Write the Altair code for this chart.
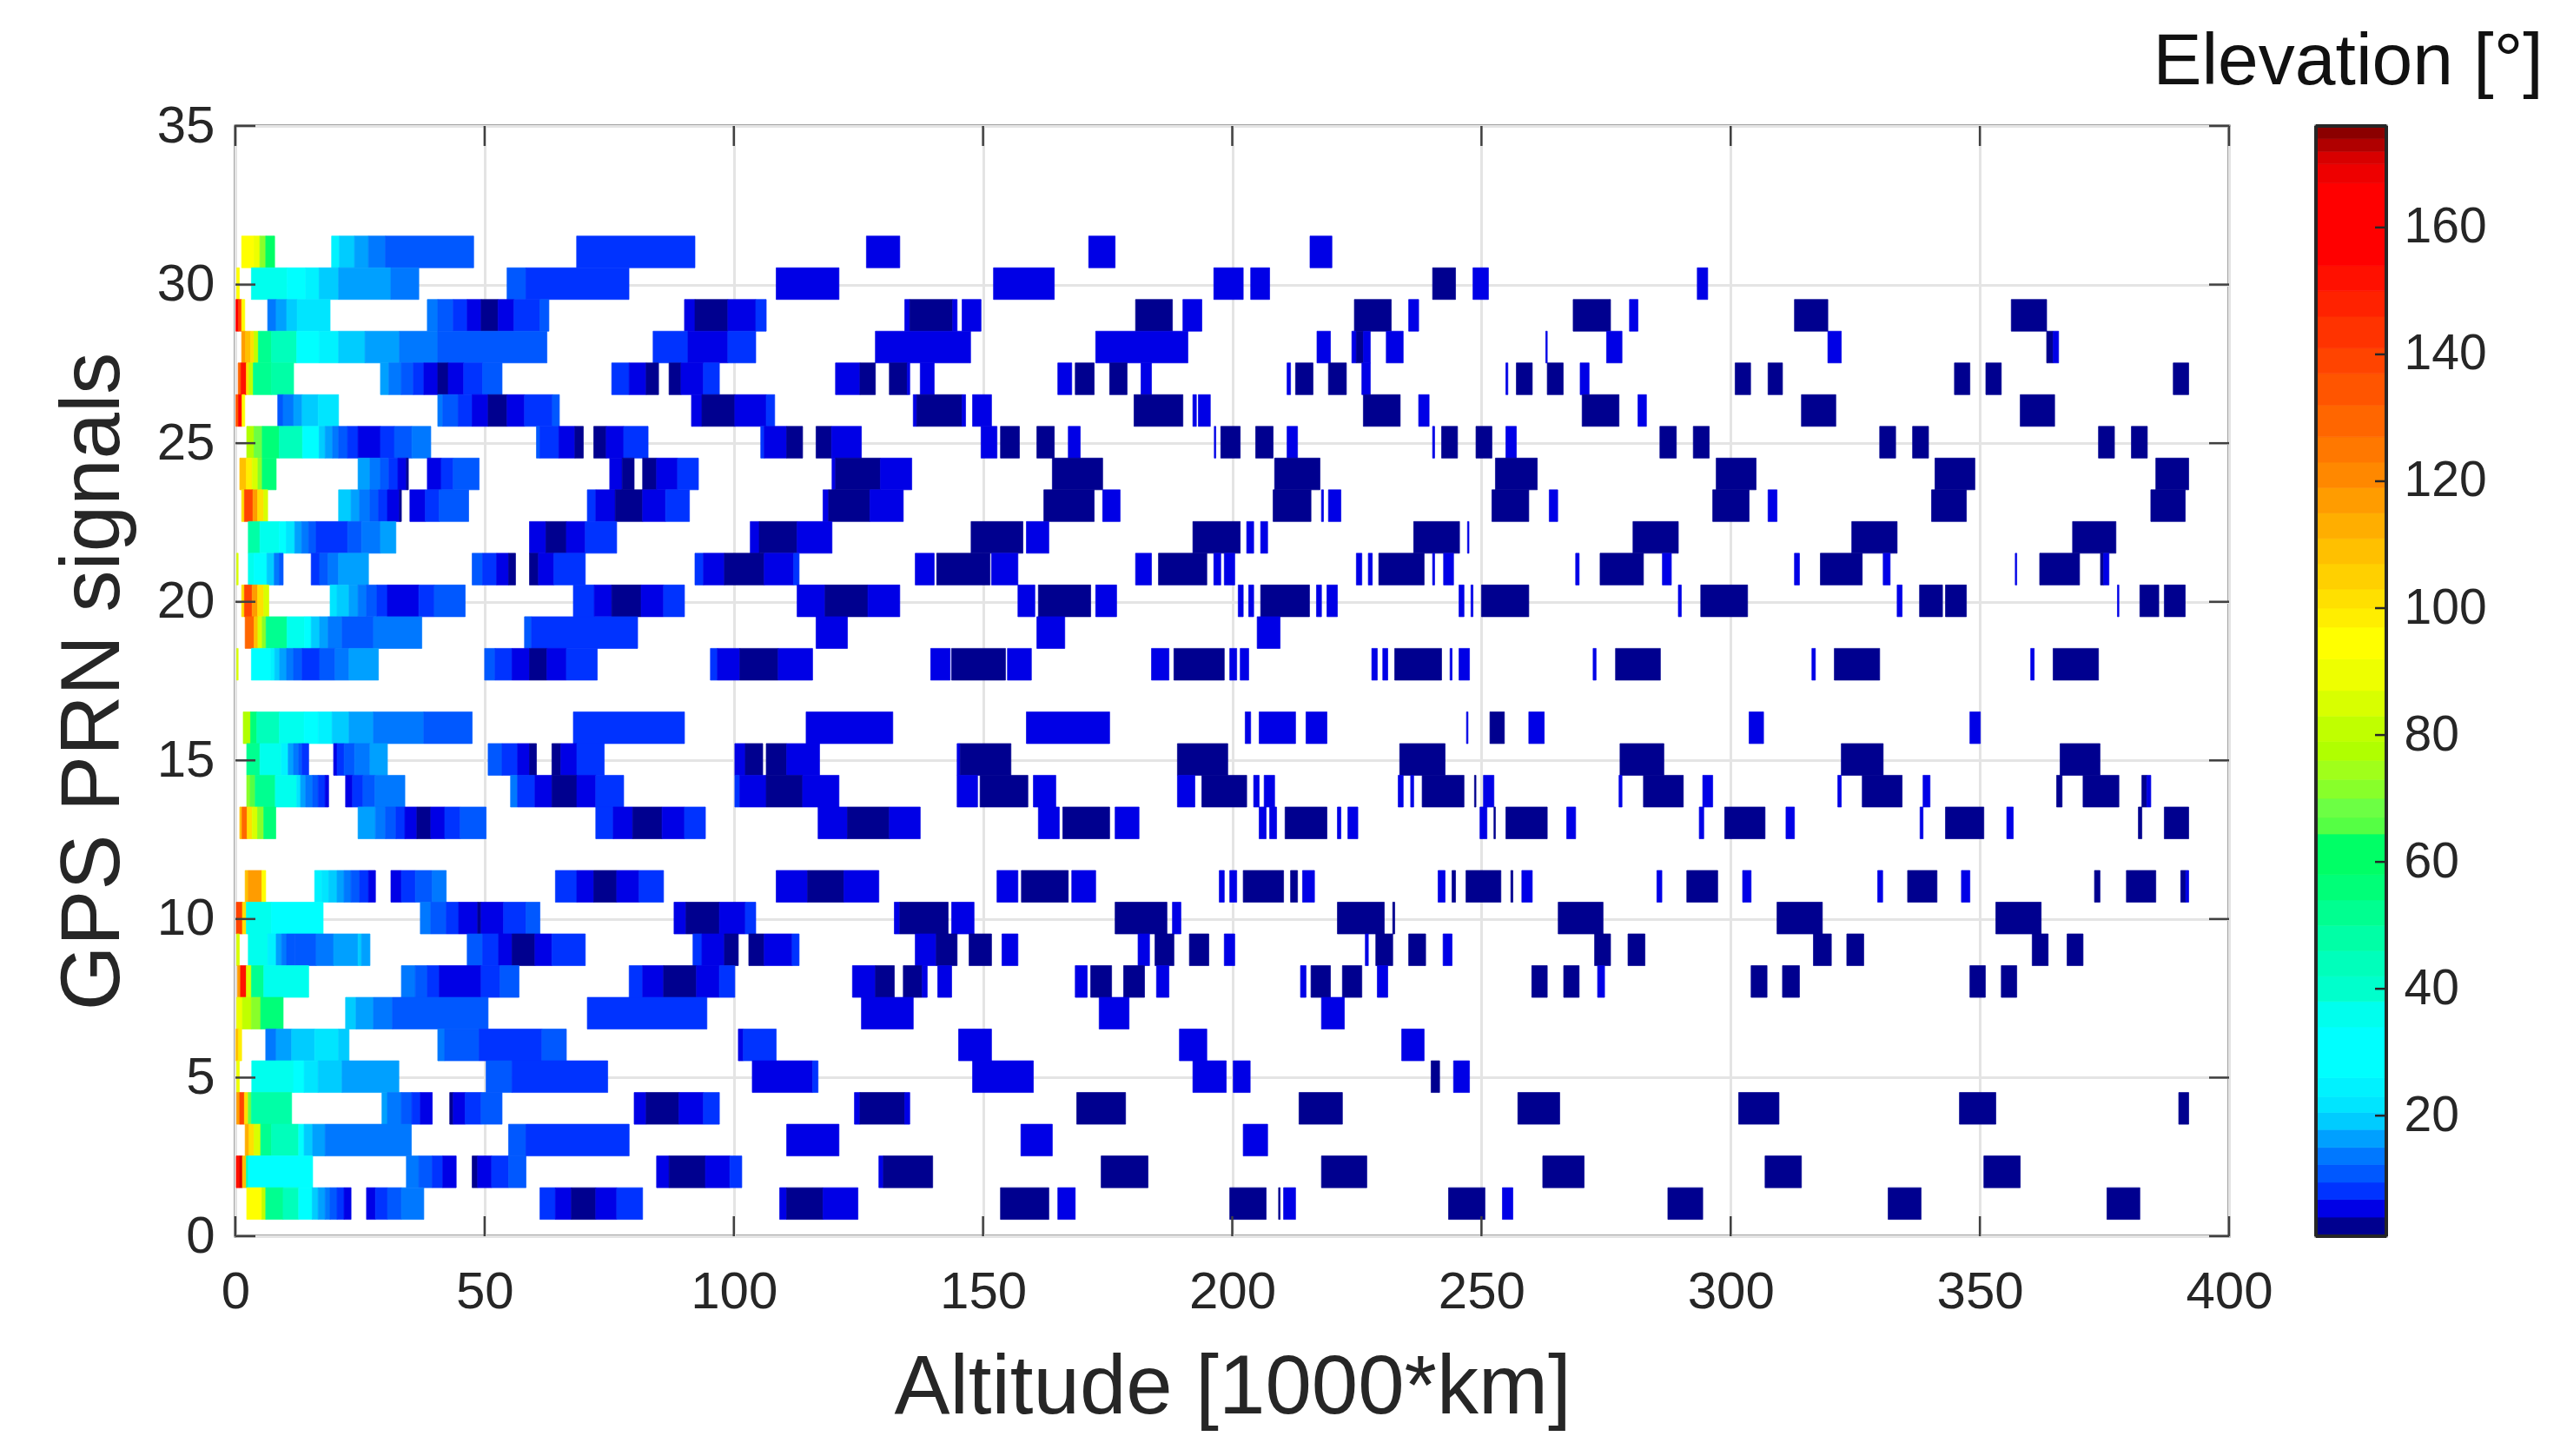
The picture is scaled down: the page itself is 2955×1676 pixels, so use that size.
import altair as alt
import pandas as pd

# Elevation values
N, B, C, D, E, F, G, H = 2.5, 5.5, 8, 11, 13.5, 16.5, 19, 22

# (altitude start, altitude end, elevation) per GPS PRN
prn_31 = [(1.25,3.74,95),(3.74,4.91,88),(4.91,6.08,72),(6.08,7.87,58),(19.3,20.85,24),(20.85,23.9,G),(23.9,26.7,F),(26.7,30.1,E),(30.1,47.8,D),(68.46,92.2,C),(126.6,133.3,B),(171.2,176.5,B),(215.6,220,B)]
prn_30 = [(0.24,0.79,95),(3.2,10.35,36),(10.35,14.09,30),(14.09,16.8,24),(16.8,20.7,G),(20.7,31.2,F),(31.2,36.8,E),(54.5,58.3,D),(58.3,78.96,C),(108.5,121.1,B),(152.1,164.3,B),(196.3,202.2,B),(203.7,207.5,B),(240.2,244.8,N),(248.3,251.4,B),(293.3,295.4,B)]
prn_29 = [(0.09,0.63,160),(0.63,1.25,140),(1.25,1.88,95),(6.47,8.18,E),(8.18,10.28,F),(10.28,12.38,G),(12.38,19,H),(38.5,40.6,E),(40.6,43.7,D),(43.7,46.5,C),(46.5,49.3,B),(49.3,52.7,N),(52.7,55.9,B),(55.9,61.1,C),(61.1,62.9,D),(90.1,92.2,B),(92.2,98.8,N),(98.8,104.4,B),(104.4,106.5,C),(134.3,135.3,B),(135.3,143.9,N),(143.9,144.8,B),(145.8,149.6,B),(180.6,188,N),(190.1,193.9,B),(224.5,231.9,N),(235.4,237.4,B),(268.4,275.9,N),(279.7,281.4,B),(312.8,319.5,N),(356.3,363.4,N)]
prn_28 = [(1.25,2.03,118),(2.03,3.04,107),(3.04,3.74,100),(3.74,4.6,80),(4.6,7.24,52),(7.24,12.3,42),(12.3,16.8,30),(16.8,20.7,24),(20.7,26,G),(26,32.9,F),(32.9,40.6,E),(40.6,62.5,D),(83.8,90.8,C),(90.8,98.8,B),(98.8,104.4,C),(128.4,147.5,B),(172.6,191.1,B),(217,219.7,B),(224,224.9,B),(224.9,226.3,N),(226.3,227.7,B),(230.9,234.3,B),(262.9,263.2,B),(275.1,278.2,B),(319.5,322.2,B),(363.4,364.7,N),(364.7,365.8,B)]
prn_27 = [(0.55,1.1,130),(1.1,2.19,150),(2.19,2.73,100),(2.73,3.59,80),(3.59,7.24,52),(7.24,11.68,46),(29.1,30.8,F),(30.8,33.3,E),(33.3,35.7,D),(35.7,37.8,C),(37.8,40.6,B),(40.6,42.7,N),(42.7,45.8,B),(45.8,49.6,C),(49.6,53.5,D),(75.5,79,C),(79,82.4,B),(82.4,84.9,N),(87,89.4,N),(89.4,93.9,B),(93.9,97.1,C),(120.4,125.3,B),(125.3,128.4,N),(131.2,134.8,N),(134.8,135.3,B),(137.4,140.2,B),(165,167.8,B),(168.5,172.3,N),(175.4,178.9,N),(181.7,183.8,B),(211,211.7,B),(212.7,216.2,N),(219.3,222.9,N),(226,227.7,B),(254.9,255.3,B),(257,260.2,N),(263.2,266.4,N),(269.8,271.6,B),(300.9,304,N),(307.5,310.4,N),(344.9,348,N),(351.2,354.3,N),(388.8,391.9,N)]
prn_26 = [(0.09,0.63,135),(0.63,1.33,160),(1.33,1.88,95),(8.49,9.58,D),(9.58,11.68,E),(11.68,13.39,F),(13.39,16.6,G),(16.6,20.7,H),(40.6,41.6,E),(41.6,44.7,D),(44.7,47.5,C),(47.5,50.7,B),(50.7,54.5,N),(54.5,58,B),(58,63.6,C),(63.6,65,D),(91.5,93.6,B),(93.6,100.2,N),(100.2,106.5,B),(106.5,108.2,C),(136,136.7,B),(136.7,145.8,N),(145.8,146.5,B),(147.9,151.7,B),(180.3,190.1,N),(192.1,192.8,B),(193.2,195.6,B),(226.3,233.7,N),(237.4,239.5,B),(270.2,277.6,N),(281.4,283.1,B),(314.2,321.1,N),(358.1,365,N)]
prn_25 = [(2.27,3.74,77),(3.74,5.38,68),(5.38,8.8,55),(8.8,13.47,44),(13.47,16.8,30),(16.8,18,G),(18,19.5,F),(19.5,20.7,E),(20.7,22.5,D),(22.5,24.6,C),(24.6,29.1,B),(29.1,31.9,C),(31.9,35.4,D),(35.4,39.2,E),(60.4,61.1,D),(61.1,64.9,C),(64.9,68.1,B),(68.1,69.8,N),(71.9,74.4,N),(74.4,77.9,B),(77.9,82.8,C),(105.4,106.1,C),(106.1,110.6,B),(110.6,113.8,N),(116.5,119.6,N),(119.6,125.6,B),(149.6,152.8,B),(153.5,157.3,N),(160.8,164.3,N),(167.1,169.5,B),(196.4,196.7,B),(197.7,201.6,N),(204.7,208.2,N),(211,213.1,B),(240.2,240.6,B),(242,245.2,N),(248.9,252.1,N),(254.9,257,B),(285.8,289.1,N),(292.5,295.7,N),(329.9,333.1,N),(336.5,339.7,N),(373.8,377,N),(380.4,383.6,N)]
prn_24 = [(0.87,2.19,107),(2.19,3.35,97),(3.35,4.52,85),(4.52,5.38,70),(5.38,8.18,56),(24.6,27,F),(27,29.1,E),(29.1,30.8,D),(30.8,32.6,C),(32.6,34.3,B),(34.3,34.7,N),(38.5,41.3,B),(41.3,43.7,C),(43.7,48.9,D),(75.1,77.6,B),(77.6,80,N),(81.7,84.5,N),(84.5,88.7,B),(88.7,92.9,C),(119.7,120.4,B),(120.4,129.4,N),(129.4,135.7,B),(163.9,174,N),(208.5,217.6,N),(252.8,261.2,N),(297.1,305.1,N),(341,349,N),(385.3,391.9,N)]
prn_23 = [(1.25,1.8,100),(1.8,3.51,140),(3.51,4.44,118),(4.44,5.69,100),(5.69,6.47,85),(20.7,23.2,G),(23.2,24.9,F),(24.9,27,E),(27,28.7,D),(28.7,30.5,C),(30.5,32.9,B),(32.9,33.3,N),(35,38.1,B),(38.1,40.9,C),(40.9,46.8,D),(70.6,72.3,C),(72.3,76.2,B),(76.2,81.7,N),(81.7,86.3,B),(86.3,91.1,C),(117.9,119,B),(119,127.3,N),(127.3,134,B),(162.2,172.3,N),(174,177.5,B),(208.2,215.8,N),(217.9,218.3,B),(219.3,221.8,B),(252.1,259.5,N),(263.6,265.3,B),(296.4,303.7,N),(307.5,309.3,B),(340.3,347.3,N),(384.3,391.2,N)]
prn_22 = [(2.58,4.91,46),(4.91,8.8,36),(8.8,10.2,30),(10.2,11.9,H),(11.9,13.3,F),(13.3,14.7,E),(14.7,16.2,D),(16.2,22.5,C),(22.5,25.3,D),(25.3,29.1,E),(29.1,32.2,F),(59,62.3,B),(62.3,66.4,N),(66.4,70.2,B),(70.2,76.5,C),(103.3,105.1,B),(105.1,112.7,N),(112.7,119.7,B),(147.6,158,N),(158.7,163.2,B),(192.1,201.6,N),(202.9,204.3,B),(205.7,207.1,B),(236.4,245.6,N),(247.2,247.5,B),(280.4,289.5,N),(324.3,333.4,N),(368.6,377.3,N)]
prn_21 = [(0.24,0.55,85),(2.58,3.74,36),(3.74,6.31,30),(6.31,7.79,G),(7.79,8.8,E),(8.8,9.58,D),(15.2,16.9,C),(16.9,18.6,D),(18.6,20.7,E),(20.7,26.7,F),(47.5,49.6,D),(49.6,52.4,C),(52.4,54.8,B),(54.8,56.2,N),(59,60.8,N),(60.8,63.9,B),(63.9,70.2,C),(92.2,93.9,C),(93.9,98.1,B),(98.1,106.1,N),(106.1,112,B),(112,113.1,C),(136.4,140.2,B),(140.7,151.4,N),(151.7,157,B),(180.6,183.8,B),(185.2,194.9,N),(196.3,197.7,B),(198.4,200.5,B),(224.9,226,B),(227.3,228.1,B),(229.4,238.5,N),(240.2,240.6,B),(242.4,244.4,B),(268.9,269.6,B),(273.8,282.5,N),(286.3,288.1,B),(312.8,313.8,B),(318,326.4,N),(330.6,332,B),(357.1,357.4,B),(362,370,N),(374.2,374.8,N),(374.8,375.9,B)]
prn_20 = [(1.25,1.8,100),(1.8,3.35,140),(3.35,4.44,118),(4.44,5.69,100),(5.69,6.7,85),(19,20.4,H),(20.4,22.8,G),(22.8,24.6,F),(24.6,26.3,E),(26.3,28.4,D),(28.4,30.5,C),(30.5,36.8,B),(36.8,39.9,C),(39.9,46.1,D),(67.8,72,C),(72,75.5,B),(75.5,81.4,N),(81.4,85.9,B),(85.9,90.1,C),(112.7,118.3,B),(118.3,126.9,N),(126.9,133.3,B),(157,160.4,B),(161.1,171.6,N),(172.6,176.8,B),(201.2,202.2,B),(203.3,204.3,B),(205.7,215.5,N),(216.9,217.9,B),(219,221.1,B),(245.5,246.5,B),(247.9,248.3,B),(250,259.5,N),(289.5,290.1,B),(294,303.4,N),(333.4,334.4,B),(337.9,342.5,N),(343.1,347.3,N),(377.6,377.9,B),(382.1,385.9,N),(387,391.2,N)]
prn_19 = [(1.95,3.74,130),(3.74,4.52,110),(4.52,5.38,85),(5.38,6.15,70),(6.15,10.35,52),(10.35,13.85,36),(13.85,15.2,26),(15.2,16.9,G),(16.9,18.6,F),(18.6,21.4,E),(21.4,27.7,D),(27.7,37.4,E),(58,59.4,D),(59.4,80.7,C),(116.5,122.8,B),(160.8,166.4,B),(205,209.6,B)]
prn_18 = [(0.24,0.55,85),(3.2,7.09,30),(7.09,7.87,24),(7.87,8.88,G),(8.88,10.28,F),(10.28,11.68,E),(11.68,13.39,D),(13.39,16.9,C),(16.9,20,D),(20,22.8,E),(22.8,28.7,F),(50,52.1,D),(52.1,55.5,C),(55.5,59,B),(59,62.5,N),(62.5,66.4,B),(66.4,72.6,C),(95.3,96.7,C),(96.7,101.2,B),(101.2,108.9,N),(108.9,115.8,B),(139.5,143.4,B),(143.7,154.5,N),(154.9,159.7,B),(183.8,187.3,B),(188.3,198.4,N),(199.5,200.9,B),(201.6,203.3,B),(228,229.1,B),(230.2,231.2,B),(232.6,242,N),(243.7,244.1,B),(245.5,247.6,B),(272.4,273,B),(276.9,285.9,N),(316.3,317,B),(320.8,329.9,N),(360.2,360.9,B),(364.7,373.8,N)]
prn_16 = [(1.57,3.04,77),(3.04,4.29,55),(4.29,8.8,42),(8.8,13.78,35),(13.78,16.6,30),(16.6,19.4,24),(19.4,22.8,G),(22.8,27.7,F),(27.7,37.8,E),(37.8,47.5,D),(67.8,90.1,C),(114.5,131.9,B),(158.7,175.4,B),(202.6,203.7,B),(205.4,212.7,B),(214.8,219,B),(247,247.3,B),(251.7,254.6,N),(259.5,262.6,B),(303.7,306.6,B),(348,350.1,B)]
prn_15 = [(2.27,4.91,50),(4.91,9.19,35),(9.19,10.59,24),(10.59,11.68,F),(11.68,12.69,E),(12.69,13.39,D),(13.39,14.7,C),(19.7,20.4,B),(20.4,21.8,C),(21.8,23.9,D),(23.9,27,E),(27,30.5,F),(50.7,53.5,D),(53.5,56.6,C),(56.6,59,B),(59,60.4,N),(63.5,65.3,N),(65.3,68.5,B),(68.5,74,C),(100.2,102.3,B),(102.3,105.8,N),(106.5,110.6,N),(110.6,117.2,B),(144.8,145.4,B),(145.4,155.6,N),(189,199.1,N),(233.6,242.7,N),(277.8,286.6,N),(322.2,330.6,N),(366.1,374.1,N)]
prn_14 = [(2.27,2.97,70),(2.97,3.98,66),(3.98,8,50),(8,12.3,35),(12.3,13.08,H),(13.08,14.09,F),(14.09,15.5,E),(15.5,16.6,D),(16.6,18,C),(18,18.7,B),(22.1,23.5,B),(23.5,25.6,C),(25.6,28,D),(28,34,E),(55.2,56.6,E),(56.6,60.1,C),(60.1,63.5,B),(63.5,68.5,N),(68.5,72.3,B),(72.3,77.9,C),(100.2,101.2,C),(101.2,106.5,B),(106.5,113.8,N),(113.8,121.1,B),(144.8,148.9,B),(149.4,159,N),(160.1,164.6,B),(189,192.5,B),(193.9,202.9,N),(204.3,205.4,B),(206.4,208.5,B),(233.3,234.3,B),(235.8,236.4,B),(238.1,246.5,N),(248.6,248.9,N),(250.4,252.5,B),(277.6,278.2,B),(282.5,290.5,N),(294.4,296.4,B),(321.5,322.2,B),(326.4,334.4,N),(338.6,340,B),(365.4,366.5,N),(370.7,377.9,N),(382.5,383.5,N),(383.5,384.3,B)]
prn_13 = [(0.87,1.33,107),(1.33,2.34,130),(2.34,3.35,100),(3.35,4.44,85),(4.44,5.69,70),(5.69,8.1,55),(24.6,28.1,F),(28.1,30.1,E),(30.1,32.2,D),(32.2,34,C),(34,36.4,B),(36.4,39.2,N),(39.2,42,B),(42,45.1,C),(45.1,50.3,D),(72.3,75.8,C),(75.8,79.7,B),(79.7,85.6,N),(85.6,90.1,B),(90.1,94.3,C),(116.9,122.8,B),(122.8,131.2,N),(131.2,137.4,B),(161.1,165.3,B),(166,175.4,N),(176.5,181.3,B),(205.4,206.8,B),(207.5,208.9,B),(210.6,219,N),(221.1,221.8,B),(223.2,225.2,B),(249.7,251.1,B),(252.5,252.8,N),(254.9,263.2,N),(267.1,268.9,B),(293.7,294.6,B),(298.8,306.9,N),(311.1,312.8,B),(338,338.6,B),(343.1,350.8,N),(355.4,356.7,B),(381.8,382.5,N),(387,391.9,N)]
prn_11 = [(1.95,2.58,107),(2.58,5.3,117),(5.3,6.08,92),(15.9,17.3,24),(17.3,18.7,H),(18.7,20.4,G),(20.4,21.8,F),(21.8,23.2,E),(23.2,24.9,D),(24.9,26.7,C),(26.7,28.1,B),(31.2,33.3,B),(33.3,36.1,C),(36.1,39.5,D),(39.5,42.3,E),(64.2,68.5,C),(68.5,71.9,B),(71.9,76.5,N),(76.5,81,B),(81,85.9,C),(108.5,114.8,B),(114.8,122.1,N),(122.1,129.1,B),(152.8,157,B),(157.7,167.1,N),(167.8,172.6,B),(197.4,198.4,B),(199.5,200.9,B),(202.2,210.3,N),(211.7,213.1,N),(214.1,216.5,B),(241.3,242.7,B),(244.1,244.8,N),(246.9,253.9,N),(255.9,256.3,N),(258.1,260.2,B),(285.2,286.2,B),(291.2,297.4,N),(302.4,304.1,B),(329.5,330.5,B),(335.5,341.4,N),(346.3,348,B),(373,374.1,N),(379.4,385.3,N),(390.3,391.3,N),(391.3,391.9,B)]
prn_10 = [(0.17,1.41,140),(1.41,2.19,100),(2.19,7.24,36),(7.24,17.6,30),(37.1,39.2,E),(39.2,42.3,D),(42.3,44.8,C),(44.8,48.6,B),(48.6,49.3,N),(49.3,53.8,B),(53.8,58.3,C),(58.3,61.1,D),(88,90.4,B),(90.4,97.1,N),(97.1,102.3,B),(102.3,104.4,C),(132.2,133.3,B),(133.3,143,N),(143.7,148.2,B),(176.5,186.9,N),(188,189.7,B),(221.1,230.5,N),(232.2,232.6,N),(265.4,274.4,N),(309.3,318.4,N),(353.2,362.3,N)]
prn_9 = [(0.24,0.79,85),(2.58,6.47,36),(6.47,8.18,24),(8.18,9.27,F),(9.27,10.28,E),(10.28,12,D),(12,16.2,D),(16.2,19.7,E),(19.7,24.6,F),(24.6,25.3,G),(25.3,27,F),(46.5,49.6,D),(49.6,52.8,C),(52.8,55.5,B),(55.5,60.1,N),(60.1,63.5,B),(63.5,70.2,C),(91.8,93.6,C),(93.6,98.1,B),(98.1,100.9,N),(103,106.1,N),(106.1,111.7,B),(111.7,113.1,C),(136.4,140.6,B),(140.6,144.8,N),(147.2,151.7,N),(153.8,157,B),(181.1,183.4,B),(184.5,188.3,N),(191.4,195.3,N),(198.4,200.5,B),(226.7,227.3,B),(228.8,232.2,N),(235.4,238.8,N),(242.3,244.1,B),(272.7,275.9,N),(279.4,282.8,N),(316.6,320.2,N),(323.3,326.7,N),(360.5,363.7,N),(367.5,370.7,N)]
prn_8 = [(0.4,1.02,117),(1.02,2.19,150),(2.19,3.2,85),(3.2,5.69,50),(5.69,14.7,36),(33.3,36.1,E),(36.1,38.5,D),(38.5,40.9,C),(40.9,49.3,B),(49.3,53.1,C),(53.1,56.9,D),(79,81.7,C),(81.7,85.9,B),(85.9,92.5,N),(92.5,97.1,B),(97.1,100.2,C),(123.8,128.4,B),(128.4,132.2,N),(134,137.8,N),(137.8,138.8,B),(140.9,143.7,B),(168.5,170.9,B),(171.6,175.8,N),(178.2,182.4,N),(184.8,187.3,B),(213.7,214.8,B),(215.8,219.7,N),(222.1,226,N),(229.1,231.2,B),(260.1,263.2,N),(266.5,269.6,N),(273.3,274.7,B),(304.1,307.3,N),(310.4,313.8,N),(348,351.1,N),(354.3,357.4,N)]
prn_7 = [(0.24,1.41,90),(1.41,3.2,80),(3.2,5.07,70),(5.07,9.58,56),(22.1,24.2,G),(24.2,27.7,F),(27.7,31.5,E),(31.5,50.7,D),(70.6,94.6,C),(125.6,136,B),(173.3,179.3,B),(217.9,222.5,B)]
prn_6 = [(0.09,0.63,107),(0.63,1.25,98),(6.08,8.18,E),(8.18,11.29,F),(11.29,15.9,G),(15.9,20.7,H),(20.7,22.8,G),(40.6,42,E),(42,48.9,D),(48.9,61.5,C),(61.5,66.4,D),(100.9,101.9,B),(101.9,108.5,C),(145.1,151.7,B),(189.4,194.9,B),(234,238.5,B)]
prn_5 = [(0.24,0.79,88),(3.28,11.68,36),(11.68,13.78,30),(13.78,16.6,H),(16.6,21.4,G),(21.4,32.8,F),(50.3,55.5,D),(55.5,74.7,C),(103.7,115.8,B),(115.8,116.9,C),(147.9,160.1,B),(192.1,198.8,B),(200.2,203.6,B),(239.9,241.6,N),(244.4,247.6,B)]
prn_4 = [(0.24,0.87,117),(0.87,1.8,140),(1.8,2.58,100),(2.58,3.2,68),(3.2,11.29,46),(29.4,30.5,F),(30.5,33.3,E),(33.3,35.4,D),(35.4,37.1,C),(37.1,39.5,B),(43,43.7,N),(43.7,46.1,B),(46.1,49.3,C),(49.3,53.5,D),(80,82.4,B),(82.4,89,N),(89,93.9,B),(93.9,97.1,C),(124.2,125.3,B),(125.3,134.3,N),(134.3,135.3,B),(168.8,178.6,N),(213.4,222.1,N),(257.3,265.7,N),(301.6,309.7,N),(345.9,353.2,N),(389.9,391.9,N)]
prn_3 = [(1.95,2.73,113),(2.73,3.74,100),(3.74,5.07,85),(5.07,7.24,52),(7.24,12.69,42),(12.69,13.78,30),(13.78,15.5,G),(15.5,18,F),(18,35.3,E),(54.8,58.3,D),(58.3,79,C),(110.6,121.1,B),(157.6,163.9,B),(202.2,207.1,B)]
prn_2 = [(0.17,0.87,150),(0.87,1.41,170),(1.41,2.19,110),(2.19,2.6,42),(2.6,15.5,30),(34.3,36.8,E),(36.8,39.5,D),(39.5,41.6,C),(41.6,44.3,B),(47.5,48.6,N),(48.6,51.4,B),(51.4,54.8,C),(54.8,58.3,D),(84.5,87,B),(87,94.3,N),(94.3,99.2,B),(99.2,101.6,C),(129.1,130,B),(130,139.9,N),(173.7,183.1,N),(217.9,227,N),(262.3,270.6,N),(306.9,314.2,N),(350.8,358.1,N)]
prn_1 = [(2.27,5.3,95),(5.3,6.08,80),(6.08,9.58,52),(9.58,12.69,42),(12.69,15.4,30),(15.4,16.6,G),(16.6,18,F),(18,19,E),(19,20.4,D),(20.4,21.8,C),(21.8,23.2,B),(26.3,28.1,B),(28.1,30.5,C),(30.5,33.3,D),(33.3,37.8,E),(61.1,64.2,C),(64.2,67.4,B),(67.4,72.3,N),(72.3,76.5,B),(76.5,81.7,C),(109.2,110.6,B),(110.6,117.9,N),(117.9,124.9,B),(153.5,163.2,N),(165,168.5,B),(199.5,206.8,N),(209.3,209.6,N),(210.3,212.7,B),(243.4,250.7,N),(254.2,256.3,B),(287.4,294.4,N),(331.6,338.2,N),(375.5,382.1,N)]

rows = {31: prn_31, 30: prn_30, 29: prn_29, 28: prn_28, 27: prn_27, 26: prn_26, 25: prn_25,
        24: prn_24, 23: prn_23, 22: prn_22, 21: prn_21, 20: prn_20, 19: prn_19, 18: prn_18,
        16: prn_16, 15: prn_15, 14: prn_14, 13: prn_13, 11: prn_11, 10: prn_10, 9: prn_9,
        8: prn_8, 7: prn_7, 6: prn_6, 5: prn_5, 4: prn_4, 3: prn_3, 2: prn_2, 1: prn_1}

# Colour bar: lower bound of each band and its colour
level_low = [1, 4, 6.8, 9.5, 12.3, 15, 17.8, 20.5, 23, 26, 34, 38, 42, 46, 50, 54, 58, 64.4, 67, 70, 73, 76, 79, 83, 87, 92, 97, 100, 103, 107, 111, 115, 119, 123, 127, 132, 137, 141, 146, 150, 154, 167, 170, 172, 174]
level_col = ["#00008F", "#0000E6", "#0033FF", "#0058FF", "#0078FF", "#00A0FF", "#00CCFF", "#00E5FF", "#00F2FF", "#00FFFF", "#00FFEE", "#00FFCC", "#00FFBB", "#00FFA6", "#00FF90", "#00FF78", "#00FF66", "#55FF44", "#6CFF44", "#88FF2A", "#A0FF1A", "#B0FF00", "#C0FF00", "#D8FF00", "#EEFF00", "#FFFF00", "#FFEE00", "#FFE000", "#FFD000", "#FFC000", "#FFAE00", "#FF9C00", "#FF8800", "#FF7800", "#FF6600", "#FF5500", "#FF4400", "#FF3300", "#FF2200", "#FF1000", "#FF0000", "#EE0000", "#D80000", "#B00000", "#8B0000"]
level_top = 176

x_ticks = [0, 50, 100, 150, 200, 250, 300, 350, 400]
y_ticks = [0, 5, 10, 15, 20, 25, 30, 35]
bar_ticks = [20, 40, 60, 80, 100, 120, 140, 160]

FONT = "Liberation Sans"
W, HT = 2295, 1278
TICK = 23
BAR_W = 81

records = []
for prn, segs in rows.items():
    for a, b, e in segs:
        records.append({"a": a, "b": b, "y0": prn - 0.47, "y1": prn + 0.53, "elev": e})
df = pd.DataFrame(records)

thresh = alt.Scale(type="threshold", domain=level_low[1:], range=level_col)

x_scale = alt.Scale(domain=[0, 400], nice=False, zero=False)
y_scale = alt.Scale(domain=[0, 35], nice=False, zero=False)

x_axis = alt.Axis(
    title="Altitude [1000*km]", values=x_ticks, format="d", grid=True, gridColor="#e4e4e4", gridWidth=3,
    domain=False, ticks=False, labelFontSize=60, labelFont=FONT, labelColor="#262626", labelPadding=35,
    labelFlush=False, labelOverlap=False,
    titleFontSize=96, titleFont=FONT, titleFontWeight="normal", titleColor="#262626", titlePadding=33)
y_axis = alt.Axis(
    title="GPS PRN signals", values=y_ticks, format="d", grid=True, gridColor="#e4e4e4", gridWidth=3,
    domain=False, ticks=False, labelFontSize=60, labelFont=FONT, labelColor="#262626", labelPadding=24,
    labelFlush=False, labelOverlap=False,
    titleFontSize=96, titleFont=FONT, titleFontWeight="normal", titleColor="#262626", titlePadding=24)

rects = alt.Chart(df).mark_rect(strokeWidth=0.7).encode(
    x=alt.X("a:Q", scale=x_scale, axis=x_axis),
    x2="b:Q",
    y=alt.Y("y0:Q", scale=y_scale, axis=y_axis),
    y2="y1:Q",
    color=alt.Color("elev:Q", scale=thresh, legend=None),
    stroke=alt.Stroke("elev:Q", scale=thresh, legend=None),
)

xt = pd.DataFrame({"v": x_ticks})
yt = pd.DataFrame({"v": y_ticks})
rule_style = dict(color="#404040", strokeWidth=2.5)
x_enc = alt.X("v:Q", scale=x_scale, axis=x_axis)
y_enc = alt.Y("v:Q", scale=y_scale, axis=y_axis)
ticks_bottom = alt.Chart(xt).mark_rule(**rule_style).encode(x=x_enc, y=alt.value(HT), y2=alt.value(HT - TICK))
ticks_top = alt.Chart(xt).mark_rule(**rule_style).encode(x=x_enc, y=alt.value(0), y2=alt.value(TICK))
ticks_left = alt.Chart(yt).mark_rule(**rule_style).encode(y=y_enc, x=alt.value(0), x2=alt.value(TICK))
ticks_right = alt.Chart(yt).mark_rule(**rule_style).encode(y=y_enc, x=alt.value(W), x2=alt.value(W - TICK))

main = alt.layer(rects, ticks_bottom, ticks_top, ticks_left, ticks_right).properties(width=W, height=HT)

bar_df = pd.DataFrame({
    "low": level_low,
    "high": level_low[1:] + [level_top],
    "col": level_col,
})
bar_scale = alt.Scale(domain=[1, level_top], nice=False, zero=False)
bar_axis = alt.Axis(
    title=None, orient="right", values=bar_ticks, format="d", grid=False, domain=False, ticks=False,
    labelFontSize=57, labelFont=FONT, labelColor="#262626", labelPadding=20, labelFlush=False, labelOverlap=False)
bar = alt.Chart(bar_df).mark_rect(strokeWidth=0.7).encode(
    y=alt.Y("low:Q", scale=bar_scale, axis=bar_axis),
    y2="high:Q",
    x=alt.value(0),
    x2=alt.value(BAR_W),
    color=alt.Color("col:N", scale=None),
    stroke=alt.Stroke("col:N", scale=None),
)
bar_t = alt.Chart(pd.DataFrame({"v": bar_ticks})).mark_rule(color="#262626", strokeWidth=2.5).encode(
    y=alt.Y("v:Q", scale=bar_scale, axis=bar_axis), x=alt.value(BAR_W - 13), x2=alt.value(BAR_W))
frame_style = dict(color="#262626", strokeWidth=3)
frame_l = alt.Chart(bar_df).mark_rule(**frame_style).encode(x=alt.value(0), y=alt.value(0), y2=alt.value(HT))
frame_r = alt.Chart(bar_df).mark_rule(**frame_style).encode(x=alt.value(BAR_W), y=alt.value(0), y2=alt.value(HT))
frame_t = alt.Chart(bar_df).mark_rule(**frame_style).encode(y=alt.value(0), x=alt.value(0), x2=alt.value(BAR_W))
frame_b = alt.Chart(bar_df).mark_rule(**frame_style).encode(y=alt.value(HT), x=alt.value(0), x2=alt.value(BAR_W))
bar_panel = alt.layer(bar, bar_t, frame_l, frame_r, frame_t, frame_b).properties(width=BAR_W, height=HT)

chart = alt.hconcat(main, bar_panel, spacing=45).properties(
    title=alt.TitleParams(text="Elevation [°]", anchor="end", fontSize=84, font=FONT, fontWeight="normal",
                          color="#111111", dx=64, offset=-1),
    padding={"left": 49, "top": 21, "right": 0, "bottom": 0},
    background="white",
).configure_view(stroke="#4a4a4a", strokeWidth=3)

chart.save("out.html", embed_options={"renderer": "svg", "actions": False})
